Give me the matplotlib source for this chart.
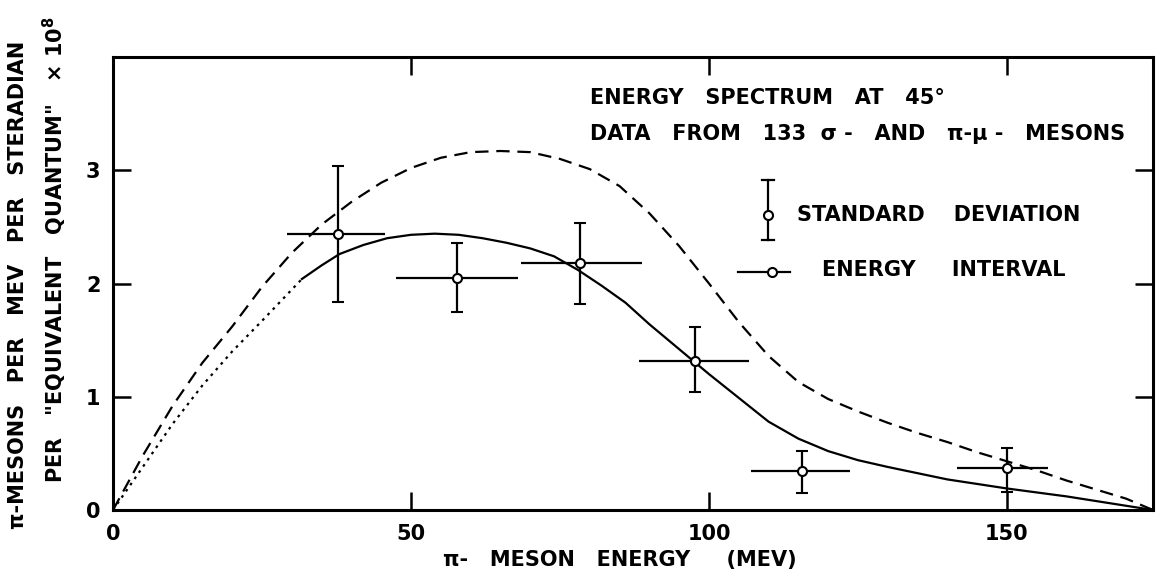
import matplotlib
matplotlib.use("Agg")
import matplotlib.pyplot as plt
import numpy as np

# Measured pion yields (energy in MeV, yield x 1e8 per MeV per sr per equivalent quantum)
energy = [37.8, 57.8, 78.3, 97.7, 115.6, 150.0]
yield_ = [2.44, 2.05, 2.18, 1.32, 0.34, 0.37]
yerr_up = [0.60, 0.31, 0.35, 0.30, 0.18, 0.18]
yerr_dn = [0.60, 0.30, 0.36, 0.28, 0.19, 0.21]
e_lo = [29.2, 47.5, 68.4, 88.3, 107.0, 141.6]
e_hi = [45.7, 68.0, 88.7, 106.7, 123.7, 156.9]

# Solid theoretical curve
solid_x = [31.7, 35, 38, 42, 46, 50, 54, 58, 62, 66, 70, 74, 78, 82, 86, 90, 95,
           100, 105, 110, 115, 120, 125, 130, 140, 150, 160, 174.5]
solid_y = [2.04, 2.16, 2.26, 2.34, 2.40, 2.43, 2.44, 2.43, 2.40, 2.36, 2.31, 2.24,
           2.12, 1.98, 1.83, 1.64, 1.42, 1.20, 0.99, 0.78, 0.63, 0.52, 0.44, 0.38,
           0.27, 0.19, 0.12, 0.0]

# Dotted extension of the solid curve toward the origin
dotted_x = [0, 5, 10, 15, 20, 25, 31.7]
dotted_y = [0, 0.38, 0.76, 1.10, 1.40, 1.67, 2.04]

# Dashed curve
dashed_x = [0, 5, 10, 15, 20, 25, 30, 35, 40, 45, 50, 55, 60, 65, 70, 75, 80, 85,
            90, 95, 100, 105, 110, 115, 120, 125, 130, 135, 140, 145, 150, 155,
            160, 165, 170, 174.5]
dashed_y = [0, 0.48, 0.92, 1.30, 1.62, 1.97, 2.27, 2.52, 2.72, 2.89, 3.02, 3.11,
            3.16, 3.17, 3.16, 3.10, 3.01, 2.86, 2.62, 2.33, 2.00, 1.66, 1.36, 1.13,
            0.98, 0.87, 0.77, 0.68, 0.60, 0.51, 0.43, 0.35, 0.26, 0.18, 0.10, 0.0]

x_ticks = [0, 50, 100, 150]
y_ticks = [0, 1, 2, 3]

plt.rcParams["font.family"] = ["DejaVu Sans"]
plt.rcParams["font.weight"] = "bold"

fig = plt.figure(figsize=(11.62, 5.79), dpi=100)
ax = fig.add_axes([113 / 1162, 69 / 579, 1040 / 1162, 453 / 579])
ax.set_xlim(0, 174.5)
ax.set_ylim(0, 4)

# curves
ax.plot(solid_x, solid_y, color="black", lw=1.6, zorder=2)
ax.plot(dotted_x, dotted_y, color="black", lw=1.6, ls=(0, (1.2, 2.2)), zorder=2)
ax.plot(dashed_x, dashed_y, color="black", lw=1.6, ls=(0, (6, 3.5)), zorder=2)

# energy intervals (no caps)
e = np.array(energy)
xerr = [e - np.array(e_lo), np.array(e_hi) - e]
ax.errorbar(energy, yield_, xerr=xerr, fmt="none", ecolor="black",
            elinewidth=1.6, capsize=0, zorder=3)
# standard deviations (capped)
ax.errorbar(energy, yield_, yerr=[yerr_dn, yerr_up], fmt="o", color="black",
            ms=6.5, mfc="white", mec="black", mew=1.5, elinewidth=1.6,
            capsize=4, capthick=1.6, zorder=4)

# legend symbols
ax.plot([0.630, 0.630], [0.596, 0.728], color="black", lw=1.6,
        transform=ax.transAxes, zorder=4)
for yy in (0.596, 0.728):
    ax.plot([0.624, 0.636], [yy, yy], color="black", lw=1.6,
            transform=ax.transAxes, zorder=4)
ax.plot([0.630], [0.651], "o", ms=6.5, mfc="white", mec="black", mew=1.5,
        transform=ax.transAxes, zorder=5)
ax.plot([0.601, 0.651], [0.525, 0.525], color="black", lw=1.6,
        transform=ax.transAxes, zorder=4)
ax.plot([0.634], [0.525], "o", ms=6.5, mfc="white", mec="black", mew=1.5,
        transform=ax.transAxes, zorder=5)

tk = dict(fontsize=15, fontweight="bold")
ax.text(0.658, 0.651, "STANDARD    DEVIATION", transform=ax.transAxes,
        va="center", ha="left", **tk)
ax.text(0.682, 0.530, "ENERGY     INTERVAL", transform=ax.transAxes,
        va="center", ha="left", **tk)
ax.text(0.459, 0.909, "ENERGY   SPECTRUM   AT   45°", transform=ax.transAxes,
        va="center", ha="left", **tk)
ax.text(0.459, 0.831, "DATA   FROM   133  σ -   AND   π-μ -   MESONS",
        transform=ax.transAxes, va="center", ha="left", **tk)

# frame and ticks
for s in ax.spines.values():
    s.set_linewidth(2.2)
ax.set_xticks(x_ticks)
ax.set_yticks(y_ticks)
ax.tick_params(direction="in", length=13, width=1.8, top=True, right=True,
               labelsize=15, pad=9)
ax.tick_params(axis="x", pad=10)
for lab in ax.get_xticklabels() + ax.get_yticklabels():
    lab.set_fontweight("bold")

fig.text(620 / 1162, 1 - 560 / 579, "π-   MESON   ENERGY     (MEV)",
         ha="center", va="center", fontsize=15, fontweight="bold")
fig.text(18 / 1162, 1 - 285 / 579, "π-MESONS   PER   MEV   PER   STERADIAN",
         rotation=90, ha="center", va="center", fontsize=15, fontweight="bold")
fig.text(55 / 1162, 1 - 250 / 579,
         "PER   \"EQUIVALENT   QUANTUM\"   × 10$^{\\mathbf{8}}$",
         rotation=90, ha="center", va="center", fontsize=15, fontweight="bold")

fig.savefig("out.png", dpi=100)
